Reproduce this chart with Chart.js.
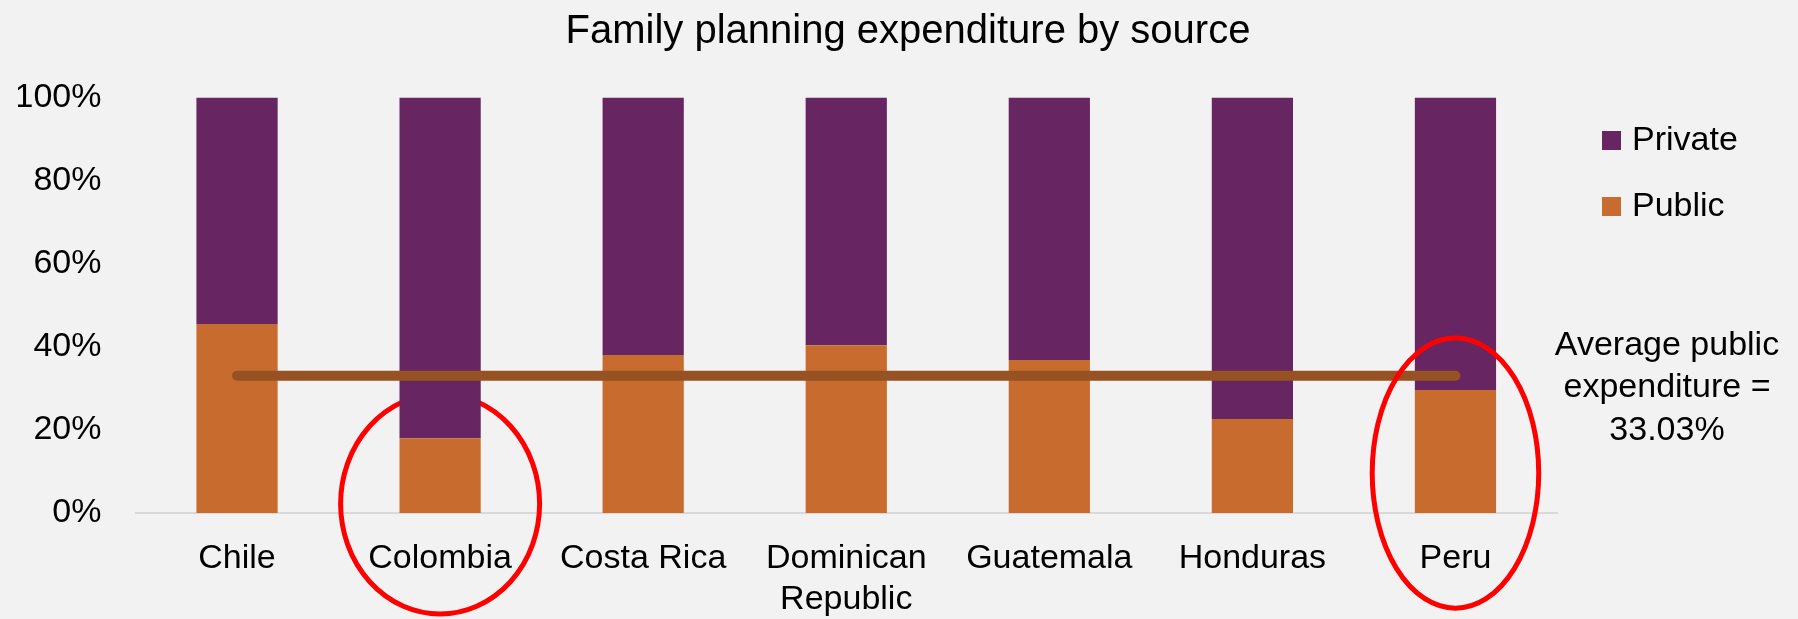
<!DOCTYPE html>
<html lang="en">
<head>
    <meta charset="UTF-8" />
    <title>Family planning expenditure by source</title>
    <style>
        body {
            margin: 0;
            background-color: #f2f2f2;
        }

        #wrap {
            width: 1798px;
            height: 619px;
        }
    </style>
</head>
<body>
    <div id="wrap">
        <canvas id="chart" width="1798" height="619"></canvas>
    </div>
    <script src="https://cdn.jsdelivr.net/npm/chart.js@4.4.0/dist/chart.umd.min.js"></script>
    <script>
        // data (shares in %)
        const countries = ["Chile", "Colombia", "Costa Rica", ["Dominican", "Republic"], "Guatemala", "Honduras", "Peru"];
        const publicShare = [45.5, 18.0, 38.0, 40.4, 36.8, 22.6, 29.6];
        const privateShare = [54.5, 82.0, 62.0, 59.6, 63.2, 77.4, 70.4];
        const averagePublic = [33.03, 33.03, 33.03, 33.03, 33.03, 33.03, 33.03];
        const yTicks = [0, 20, 40, 60, 80, 100];
        const noteLines = ["Average public", "expenditure =", "33.03%"];

        const FONT = "'Liberation Sans', Arial, sans-serif";

        // circled countries: index, centre value, half height (in %), half width (share of category)
        // Colombia's circle sits behind the bar, Peru's in front
        const circles = [
            { index: 1, value: 2.2, ry: 26.5, rx: 0.49, behind: true },
            { index: 6, value: 9.6, ry: 32.5, rx: 0.41, behind: false },
        ];

        function drawCircles(chart, behind) {
            const ctx = chart.ctx;
            const x = chart.scales.x;
            const y = chart.scales.y;
            const yPer = (y.getPixelForValue(0) - y.getPixelForValue(100)) / 100;
            const cat = x.getPixelForValue(1) - x.getPixelForValue(0);
            ctx.save();
            ctx.strokeStyle = "#ff0000";
            ctx.lineWidth = 5;
            circles.filter(c => c.behind === behind).forEach(c => {
                ctx.beginPath();
                ctx.ellipse(x.getPixelForValue(c.index), y.getPixelForValue(c.value),
                    c.rx * cat, c.ry * yPer, 0, 0, Math.PI * 2);
                ctx.stroke();
            });
            ctx.restore();
        }

        const extras = {
            id: "extras",
            beforeDatasetsDraw(chart) {
                drawCircles(chart, true);
            },
            afterDraw(chart) {
                const ctx = chart.ctx;
                const y = chart.scales.y;
                const area = chart.chartArea;

                ctx.save();
                // legend (Private above Public)
                ctx.font = "34px " + FONT;
                ctx.textBaseline = "middle";
                ctx.textAlign = "left";
                [1, 0].forEach((di, row) => {
                    const ds = chart.data.datasets[di];
                    const cy = area.top + 43 + row * 66;
                    ctx.fillStyle = ds.backgroundColor;
                    ctx.fillRect(area.right + 45, cy - 9.5, 19, 19);
                    ctx.fillStyle = "#000";
                    ctx.fillText(ds.label, area.right + 75, cy);
                });

                // note next to the average line
                const avgPx = y.getPixelForValue(averagePublic[0]);
                ctx.textAlign = "center";
                ctx.textBaseline = "alphabetic";
                noteLines.forEach((t, i) => {
                    ctx.fillText(t, area.right + 110, avgPx - 21 + i * 42.5);
                });
                ctx.restore();

                drawCircles(chart, false);
            },
        };

        const chart = new Chart(document.getElementById("chart"), {
            type: "bar",
            data: {
                labels: countries,
                datasets: [
                    {
                        label: "Public",
                        data: publicShare,
                        backgroundColor: "#c76c2e",
                        stack: "share",
                        order: 1,
                        categoryPercentage: 0.8,
                        barPercentage: 0.5,
                    },
                    {
                        label: "Private",
                        data: privateShare,
                        backgroundColor: "#672561",
                        stack: "share",
                        order: 1,
                        categoryPercentage: 0.8,
                        barPercentage: 0.5,
                    },
                    {
                        type: "line",
                        label: "Average public expenditure",
                        data: averagePublic,
                        borderColor: "#975223",
                        borderWidth: 10,
                        borderCapStyle: "round",
                        pointRadius: 0,
                        fill: false,
                        stack: "avg",
                        order: 0,
                    },
                ],
            },
            options: {
                responsive: false,
                animation: false,
                layout: {
                    padding: { left: 18, right: 0, top: 0, bottom: 0 },
                },
                plugins: {
                    legend: { display: false },
                    tooltip: { enabled: false },
                    title: {
                        display: true,
                        text: "Family planning expenditure by source",
                        color: "#000",
                        font: { family: FONT, size: 40, weight: "normal", lineHeight: 1.2 },
                        padding: { top: 8, bottom: 41.5 },
                    },
                },
                scales: {
                    x: {
                        stacked: true,
                        grid: { display: false, drawTicks: false },
                        border: { display: true, color: "#d9d9d9", width: 2 },
                        ticks: {
                            color: "#000",
                            padding: 26,
                            maxRotation: 0,
                            autoSkip: false,
                            font: { family: FONT, size: 34, lineHeight: 1.18 },
                        },
                        afterFit(scale) {
                            scale.height = 106;
                        },
                    },
                    y: {
                        stacked: true,
                        min: 0,
                        max: 100,
                        grid: { display: false, drawTicks: false },
                        border: { display: false },
                        afterBuildTicks(scale) {
                            scale.ticks = yTicks.map(v => ({ value: v }));
                        },
                        ticks: {
                            color: "#000",
                            padding: 34,
                            font: { family: FONT, size: 34 },
                            callback: v => v + "%",
                        },
                        afterFit(scale) {
                            scale.width = 117.5;
                        },
                    },
                    // empty strip on the right that holds the legend and the note
                    side: {
                        type: "linear",
                        position: "right",
                        grid: { display: false, drawTicks: false },
                        border: { display: false },
                        ticks: { display: false },
                        afterFit(scale) {
                            scale.width = 241;
                        },
                    },
                },
            },
            plugins: [extras],
        });
    </script>
</body>
</html>
